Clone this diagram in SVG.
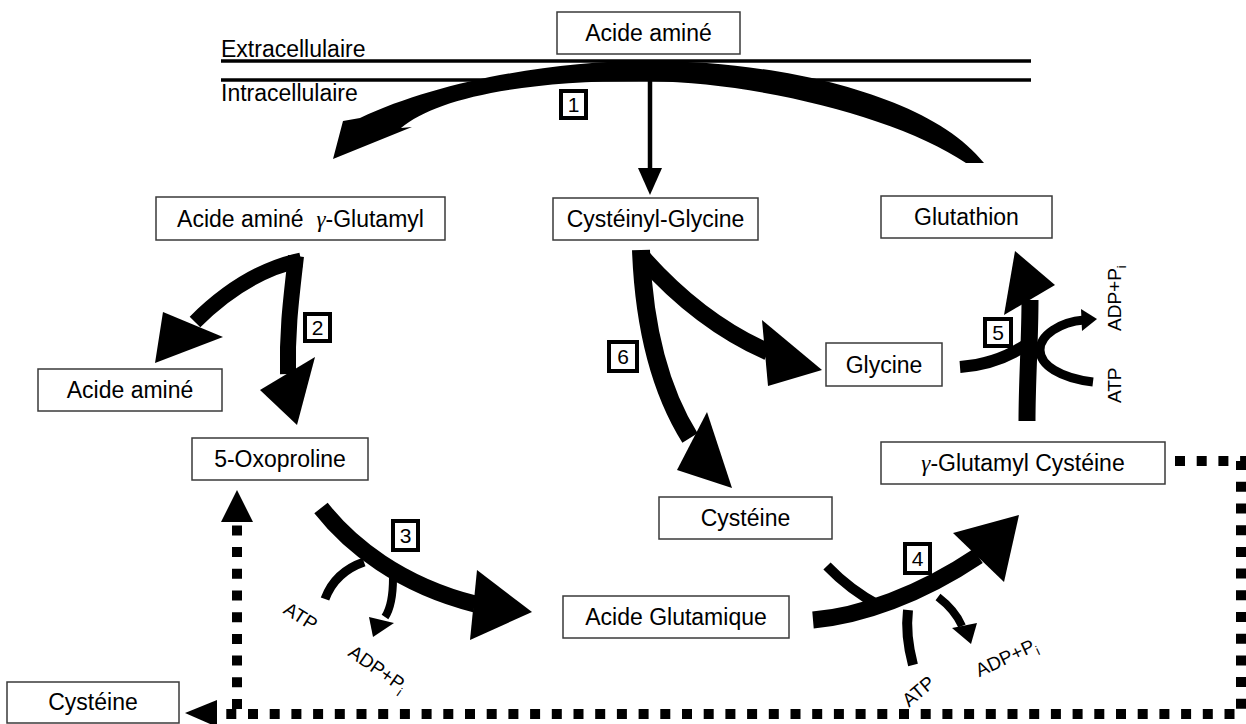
<svg xmlns="http://www.w3.org/2000/svg" width="1246" height="724" viewBox="0 0 1246 724">
<style>
text{font-family:"Liberation Sans",Arial,sans-serif;fill:#000}
.box{fill:#fff;stroke:#3a3a3a;stroke-width:1.5}
.t{font-size:23px;text-anchor:middle}
.s{fill:none;stroke:#000;stroke-linecap:butt}
.h{fill:#000}
.lab rect{fill:#fff;stroke:#000;stroke-width:4}
.lab text{font-size:21px;text-anchor:middle}
.sm{font-size:19px}
.dot{fill:none;stroke:#000;stroke-width:10;stroke-dasharray:10 11.7}
.mem{stroke:#000;stroke-width:3.5}
.g{font-family:"Liberation Serif","DejaVu Serif",serif;font-style:italic}
</style>
<g id="membrane">
<line class="mem" x1="221" y1="61" x2="1031" y2="61"/>
<line class="mem" x1="221" y1="80" x2="1031" y2="80"/>
<text x="221" y="57" style="font-size:23px">Extracellulaire</text>
<text x="221" y="101" style="font-size:23px">Intracellulaire</text>
</g>
<g id="connectors">
<path class="h" d="M984 163 C930 95 780 61 650 61 C560 60 440 80 360 118 L343 121 L333 159 L412 127 L401 128 C435 99 520 80 650 81 C760 83 900 118 966 163 Z"/>
<line class="s" x1="650" y1="75" x2="650" y2="170" stroke-width="4.5"/>
<polygon class="h" points="638,168 662,168 650,195"/>
<path class="s" stroke-width="15" d="M301 260 Q245 272 195 322"/>
<polygon class="h" points="163,312 223,337 155,363"/>
<path class="s" stroke-width="16" d="M296 256 C291 300 287 330 288 374"/>
<polygon class="h" points="260,390 315,357 297,425"/>
<path class="s" stroke-width="18" d="M641 250 C644 330 660 390 690 438"/>
<polygon class="h" points="707,412 732,488 677,470"/>
<path class="s" stroke-width="17" d="M643 258 Q700 322 768 352"/>
<polygon class="h" points="762,320 822,370 768,386"/>
<path class="s" stroke-width="17" d="M1027 421 C1027 380 1030 340 1030 300"/>
<polygon class="h" points="1004,315 1055,285 1015,251"/>
<path class="s" stroke-width="12" d="M960 367 Q1000 364 1030 342"/>
<path class="s" stroke-width="9" d="M1093 382 C1060 378 1040 365 1040 350 C1040 335 1060 322 1084 320"/>
<polygon class="h" points="1081,309 1097,319 1082,331"/>
<path class="s" stroke-width="17" d="M321 508 C350 545 400 585 475 604"/>
<polygon class="h" points="477,570 532,612 470,640"/>
<path class="s" stroke-width="9" d="M325 599 Q335 572 364 562"/>
<path class="s" stroke-width="8" d="M393 578 Q393 605 385 617"/>
<polygon class="h" points="369,617 394,623 373,637"/>
<path class="s" stroke-width="17" d="M813 620 C860 616 920 595 978 556"/>
<polygon class="h" points="953,533 1019,515 1004,582"/>
<path class="s" stroke-width="10" d="M827 566 Q850 590 880 606"/>
<path class="s" stroke-width="10" d="M913 665 Q905 635 908 610"/>
<path class="s" stroke-width="8" d="M938 597 Q955 610 962 626"/>
<polygon class="h" points="952,628 977,623 971,644"/>
<path class="dot" d="M1175 461 H1241 V714 H217"/>
<polygon class="h" points="217,700 217,727 185,713"/>
<path class="dot" d="M237 709 V522"/>
<polygon class="h" points="221,522 253,522 237,490"/>
</g>
<g id="cofactors">
<text class="sm" text-anchor="middle" transform="translate(301,616) rotate(32)" y="7">ATP</text>
<text class="sm" text-anchor="middle" transform="translate(378,668) rotate(35)" y="7">ADP+P<tspan font-size="13" dy="5">i</tspan></text>
<text class="sm" text-anchor="middle" transform="translate(918,691) rotate(-40)" y="7">ATP</text>
<text class="sm" text-anchor="middle" transform="translate(1006,657) rotate(-25)" y="7">ADP+P<tspan font-size="13" dy="5">i</tspan></text>
<text class="sm" transform="translate(1121,403) rotate(-90)">ATP</text>
<text class="sm" transform="translate(1121,331) rotate(-90)">ADP+P<tspan font-size="13" dy="5">i</tspan></text>
</g>
<g id="step-labels" class="lab">
<g id="step1"><rect x="561" y="91" width="25" height="27"/><text x="573.5" y="112">1</text></g>
<g id="step2"><rect x="305" y="314" width="25" height="27"/><text x="317.5" y="335">2</text></g>
<g id="step3"><rect x="393" y="521" width="25" height="29"/><text x="405.5" y="543">3</text></g>
<g id="step4"><rect x="905" y="544" width="25" height="29"/><text x="917.5" y="566">4</text></g>
<g id="step5"><rect x="985" y="319" width="26" height="27"/><text x="998" y="340">5</text></g>
<g id="step6"><rect x="609" y="342" width="28" height="29"/><text x="623" y="364">6</text></g>
</g>
<g id="n-aa-ext"><rect class="box" x="557" y="12" width="183" height="42"/><text class="t" x="648.5" y="41">Acide aminé</text></g>
<g id="n-aa-gglu"><rect class="box" x="156" y="197" width="289" height="43"/><text class="t" x="300.5" y="227">Acide aminé&#160; <tspan class="g">γ</tspan>-Glutamyl</text></g>
<g id="n-cysgly"><rect class="box" x="553" y="198" width="205" height="42"/><text class="t" x="655.5" y="227">Cystéinyl-Glycine</text></g>
<g id="n-gsh"><rect class="box" x="881" y="196" width="171" height="42"/><text class="t" x="966.5" y="225">Glutathion</text></g>
<g id="n-aa"><rect class="box" x="38" y="369" width="184" height="42"/><text class="t" x="130" y="398">Acide aminé</text></g>
<g id="n-oxo"><rect class="box" x="192" y="438" width="176" height="42"/><text class="t" x="280" y="467">5-Oxoproline</text></g>
<g id="n-gly"><rect class="box" x="826" y="343" width="116" height="43"/><text class="t" x="884" y="373">Glycine</text></g>
<g id="n-gglucys"><rect class="box" x="881" y="442" width="284" height="42"/><text class="t" x="1023" y="471"><tspan class="g">γ</tspan>-Glutamyl Cystéine</text></g>
<g id="n-cys"><rect class="box" x="659" y="497" width="173" height="42"/><text class="t" x="745.5" y="526">Cystéine</text></g>
<g id="n-glu"><rect class="box" x="563" y="596" width="226" height="42"/><text class="t" x="676" y="625">Acide Glutamique</text></g>
<g id="n-cys2"><rect class="box" x="7" y="682" width="172" height="41"/><text class="t" x="93" y="710">Cystéine</text></g>
</svg>
